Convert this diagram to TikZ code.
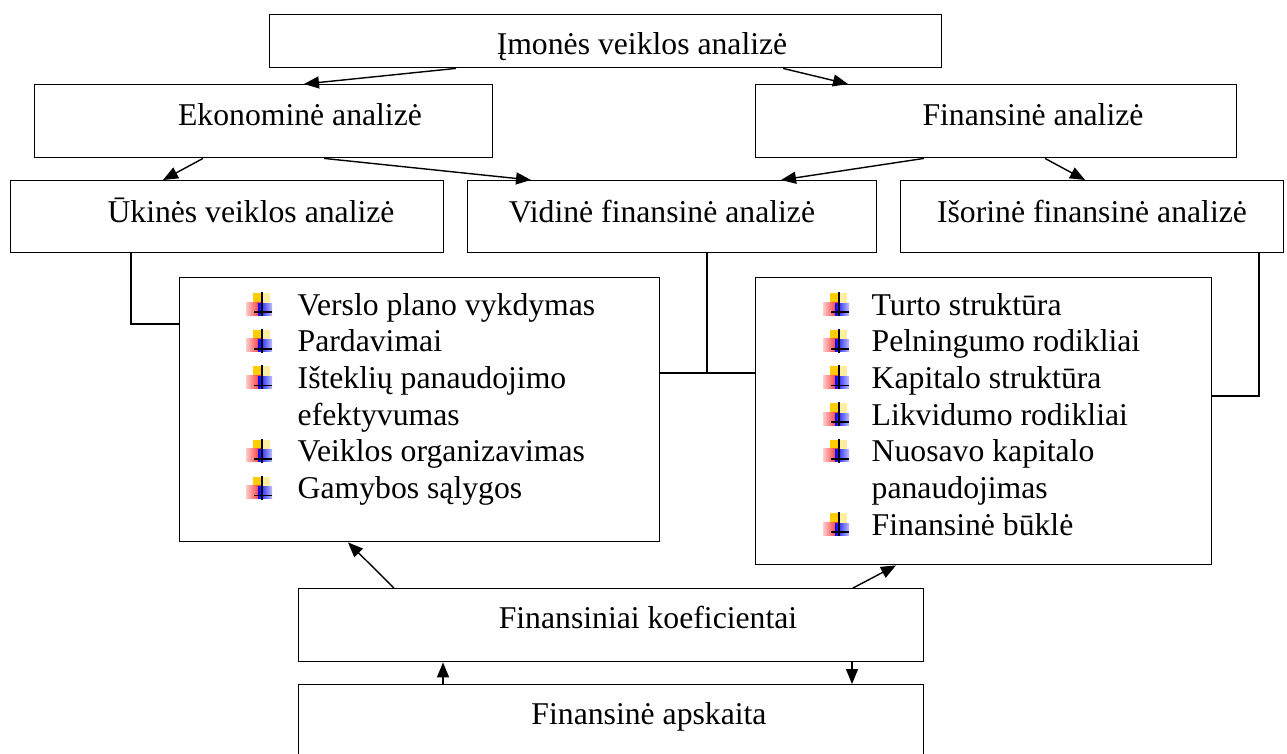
\documentclass[tikz,border=0pt]{standalone}
\usepackage{fontspec}
\setmainfont{Liberation Serif}
\usepackage{tikz}
\usetikzlibrary{arrows.meta}

\definecolor{markyellow}{RGB}{255,204,0}
\definecolor{markpale}{RGB}{255,238,160}
\newcommand\boxfont{\fontsize{31.7pt}{36.7pt}\selectfont}

\tikzset{plusmark/.pic={
	\fill[markyellow] (-9,-22) rectangle (-1,-12);
	\fill[markpale] (-1,-22) rectangle (8,-12);
	\shade[left color=red!20,right color=red!85] (-16,-13) rectangle (-1,0);
	\shade[left color=blue,right color=blue!25] (-4,-12) rectangle (10,0);
	\draw[line width=1.6pt] (0,-23) -- (0,1);
	\draw[line width=1.6pt] (-8,-3) -- (10,-3);
}}

\begin{document}
\begin{tikzpicture}[x=1pt,y=-1pt,line width=1.4pt,>={Triangle[length=15pt,width=12pt]}]
			\useasboundingbox (0,0) rectangle (1287,753);
			\clip (0,0) rectangle (1287,753);
			\begin{scope}
			\tikzstyle{every node}=[draw,inner sep=0pt,anchor=north west]
			\node[minimum width=672,minimum height=53] (imone) at (269,14) {};
			\node[minimum width=458,minimum height=73] (ekon) at (34,84) {};
			\node[minimum width=481,minimum height=73] (fin) at (755,84) {};
			\node[minimum width=433,minimum height=72] (ukin) at (10,180) {};
			\node[minimum width=409,minimum height=72] (vid) at (467,180) {};
			\node[minimum width=383,minimum height=72] (isor) at (900,180) {};
			\node[minimum width=480,minimum height=264] (lbox) at (179,277) {};
			\node[minimum width=456,minimum height=287] (rbox) at (755,277) {};
			\node[minimum width=625,minimum height=73] (koef) at (298,588) {};
			\node[minimum width=625,minimum height=100] (apsk) at (298,684) {};
			\end{scope}
			
			\begin{scope}
			\tikzstyle{every node}=[inner sep=0pt,anchor=base,font=\boxfont]
			\node (imone-t) at (642,54) {Įmonės veiklos analizė};
			\node (ekon-t) at (300,125) {Ekonominė analizė};
			\node (fin-t) at (1033,125) {Finansinė analizė};
			\node (ukin-t) at (251,222) {Ūkinės veiklos analizė};
			\node (vid-t) at (662,222) {Vidinė finansinė analizė};
			\node (isor-t) at (1092,222) {Išorinė finansinė analizė};
			\node (koef-t) at (648,628) {Finansiniai koeficientai};
			\node (apsk-t) at (649,724) {Finansinė apskaita};
			\end{scope}
			
			\begin{scope}
			\tikzstyle{every node}=[inner sep=0pt,anchor=base west,font=\boxfont]
			\foreach \t [count=\i] in {Verslo plano vykdymas,Pardavimai,Išteklių panaudojimo,efektyvumas,Veiklos organizavimas,Gamybos sąlygos} {
				\node (lt-\i) at (297,{315+36.7*(\i-1)}) {\t};
			}
			\foreach \t [count=\i] in {Turto struktūra,Pelningumo rodikliai,Kapitalo struktūra,Likvidumo rodikliai,Nuosavo kapitalo,panaudojimas,Finansinė būklė} {
				\node (rt-\i) at (871,{315+36.7*(\i-1)}) {\t};
			}
			\end{scope}
			\foreach \i in {1,2,3,5,6} {
				\pic at (262,{315+36.7*(\i-1)}) {plusmark};
			}
			\foreach \i in {1,2,3,4,5,7} {
				\pic at (839,{315+36.7*(\i-1)}) {plusmark};
			}
			
			\draw[->] ([xshift=187]imone.south west) -- ([xshift=270]ekon.north west);
			\draw[->] ([xshift=514]imone.south west) -- ([xshift=93]fin.north west);
			\draw[->] ([xshift=169]ekon.south west) -- ([xshift=153]ukin.north west);
			\draw[->] ([xshift=290]ekon.south west) -- ([xshift=64]vid.north west);
			\draw[->] ([xshift=169]fin.south west) -- ([xshift=314]vid.north west);
			\draw[->] ([xshift=290]fin.south west) -- ([xshift=185]isor.north west);
			
			\draw ([xshift=121]ukin.south west) |- ([yshift=-47]lbox.north west);
			\draw ([xshift=240]vid.south west) |- ([yshift=-96]lbox.north east);
			\draw ([yshift=-96]lbox.north east) -- ([yshift=-96]rbox.north west);
			\draw ([xshift=359]isor.south west) |- ([yshift=-119]rbox.north east);
			
			\draw[->] ([xshift=96]koef.north west) -- ([xshift=169]lbox.south west);
			\draw[->] ([xshift=555]koef.north west) -- ([xshift=141]rbox.south west);
			\draw[->] ([xshift=145]apsk.north west) -- ([xshift=145]koef.south west);
			\draw[->] ([xshift=554]koef.south west) -- ([xshift=554]apsk.north west);
		\end{tikzpicture}
\end{document}
